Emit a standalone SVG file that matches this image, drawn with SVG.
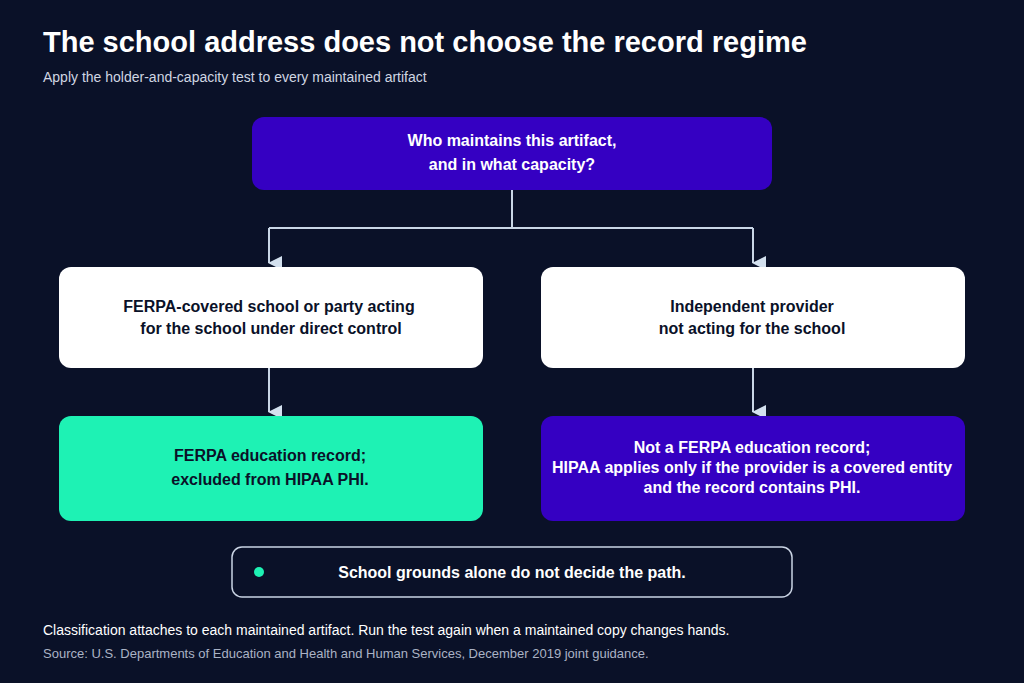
<svg xmlns="http://www.w3.org/2000/svg" width="1024" height="683" viewBox="0 0 1024 683">
<style>
text{font-family:"Liberation Sans",Arial,sans-serif;}
.b{font-weight:bold;font-size:16px;text-anchor:middle;}
.w{fill:#ffffff}.d{fill:#0a1128}
.c{stroke:#c9d6e6;stroke-width:2;fill:none}
</style>
<defs><marker id="a" markerWidth="16" markerHeight="16" refX="8" refY="14" orient="auto" markerUnits="userSpaceOnUse" viewBox="0 0 16 16"><path d="M1,1 L15,1 L8,15 Z" fill="#d3e0ee"/></marker></defs>
<rect width="1024" height="683" fill="#0a1128"/>
<text x="43" y="52" font-size="29" font-weight="bold" fill="#fff">The school address does not choose the record regime</text>
<text x="43" y="82" font-size="14" fill="#d0d6e2">Apply the holder-and-capacity test to every maintained artifact</text>
<g id="connectors">
<path class="c" d="M512,190 V228 M269,228 H753"/>
<path class="c" d="M269,228 V263" marker-end="url(#a)"/>
<path class="c" d="M753,228 V263" marker-end="url(#a)"/>
<path class="c" d="M269,368 V412" marker-end="url(#a)"/>
<path class="c" d="M753,368 V412" marker-end="url(#a)"/>
</g>
<g id="q"><rect x="252" y="117" width="520" height="73" rx="12" fill="#3500c2"/>
<text class="b w" x="512" y="146" font-size="17">Who maintains this artifact,</text><text class="b w" x="512" y="170" font-size="17">and in what capacity?</text></g>
<g id="l"><rect x="59" y="267" width="424" height="101" rx="12" fill="#fff"/>
<text class="b d" x="269" y="312">FERPA-covered school or party acting</text><text class="b d" x="271" y="334">for the school under direct control</text></g>
<g id="r"><rect x="541" y="267" width="424" height="101" rx="12" fill="#fff"/>
<text class="b d" x="752" y="312">Independent provider</text><text class="b d" x="752" y="334">not acting for the school</text></g>
<g id="lr"><rect x="59" y="416" width="424" height="105" rx="12" fill="#1ef2b4"/>
<text class="b d" x="270" y="461">FERPA education record;</text><text class="b d" x="270" y="485">excluded from HIPAA PHI.</text></g>
<g id="rr"><rect x="541" y="416" width="424" height="105" rx="12" fill="#3500c2"/>
<text class="b w" x="752" y="453" font-size="14">Not a FERPA education record;</text><text class="b w" x="752" y="473" font-size="14">HIPAA applies only if the provider is a covered entity</text><text class="b w" x="752" y="493" font-size="14">and the record contains PHI.</text></g>
<g id="note"><rect x="232" y="547" width="560" height="50" rx="10" fill="none" stroke="#c9d3e3" stroke-width="1.5"/>
<circle cx="259" cy="572" r="5" fill="#1ef2b4"/>
<text class="b w" x="512" y="578">School grounds alone do not decide the path.</text></g>
<text x="43" y="635" font-size="14" fill="#fff">Classification attaches to each maintained artifact. Run the test again when a maintained copy changes hands.</text>
<text x="43" y="658" font-size="13" fill="#aab3c5">Source: U.S. Departments of Education and Health and Human Services, December 2019 joint guidance.</text>
</svg>
